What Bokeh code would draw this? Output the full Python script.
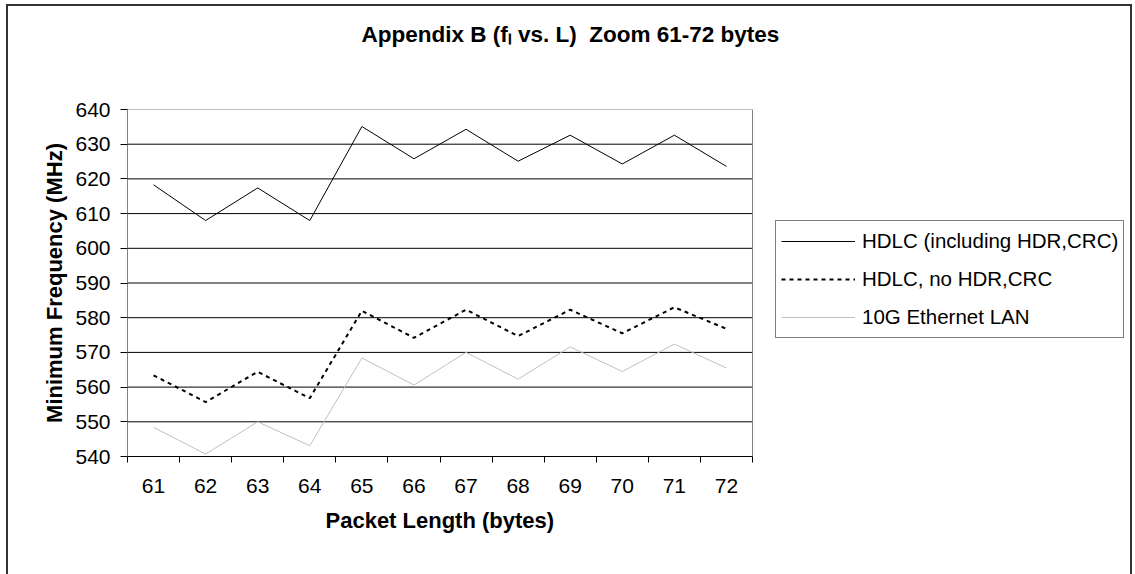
from bokeh.plotting import figure
from bokeh.models import Range1d, FixedTicker, Legend, LegendItem, Title
from bokeh.embed import file_html
from bokeh.resources import INLINE

# ---- data ----
packet_length = [61, 62, 63, 64, 65, 66, 67, 68, 69, 70, 71, 72]
hdlc_incl = [618.3, 608.0, 617.4, 608.0, 635.1, 625.8, 634.3, 625.1, 632.6, 624.3, 632.6, 623.6]
hdlc_no = [563.4, 555.7, 564.4, 556.8, 582.0, 574.2, 582.3, 574.7, 582.3, 575.5, 583.0, 576.8]
eth_lan = [548.4, 540.7, 550.0, 543.1, 568.4, 560.6, 570.0, 562.3, 571.6, 564.5, 572.4, 565.5]
series_names = ["HDLC (including HDR,CRC)", "HDLC, no HDR,CRC", "10G Ethernet LAN"]
y_ticks = [540, 550, 560, 570, 580, 590, 600, 610, 620, 630, 640]
x_bounds = [v - 0.5 for v in packet_length] + [packet_length[-1] + 0.5]
title_text = "Appendix B (f\u2097 vs. L) \u00a0Zoom 61-72 bytes"
x_title = "Packet Length (bytes)"
y_title = "Minimum Frequency (MHz)"

FONT = "Liberation Sans"

# layout (pixels): plot area 127..752 x 109..456, legend to the right inside the frame
W, H = 1135, 574
left, right_area, top, bottom = 127, 752, 109, 456
frame_right = 1127
n = len(packet_length)
px_per_cat = (right_area - left) / n
x_end = x_bounds[0] + (frame_right - left) / px_per_cat

p = figure(width=W, height=H, output_backend="svg", toolbar_location=None,
           x_range=Range1d(x_bounds[0], x_end), y_range=Range1d(y_ticks[0], y_ticks[-1]),
           min_border_left=left, min_border_right=W - frame_right,
           min_border_top=top, min_border_bottom=H - bottom)
p.background_fill_color = "white"
p.border_fill_color = None
p.outline_line_color = None
p.styles = {
    "background": ("linear-gradient(#333,#333) 6px 4px / 2px 100% no-repeat, "
                   "linear-gradient(#333,#333) 6px 4px / 1126px 2px no-repeat, "
                   "linear-gradient(#333,#333) 1130px 4px / 2px 100% no-repeat, white"),
}
p.title.visible = False

# title (above): spacer nearest the plot, then the title text
p.add_layout(Title(text=" ", standoff=36, text_font=FONT, text_font_size="22px"), "above")
p.add_layout(Title(text=title_text, align="left", offset=361 - left, standoff=0,
                   text_font=FONT, text_font_style="bold", text_font_size="22.5px",
                   text_color="black"), "above")

# x axis
xa = p.xaxis[0]
xa.bounds = (x_bounds[0], x_bounds[-1])
xa.ticker = FixedTicker(ticks=packet_length, minor_ticks=x_bounds)
xa.major_tick_out = 0
xa.major_tick_in = 0
xa.minor_tick_out = 6
xa.minor_tick_in = 0
xa.minor_tick_line_color = "black"
xa.axis_line_color = "black"
xa.major_label_text_font = FONT
xa.major_label_text_font_size = "21px"
xa.major_label_text_color = "black"
xa.major_label_standoff = 16

p.add_layout(Title(text=x_title, align="left", offset=325 - left, standoff=20,
                   text_font=FONT, text_font_style="bold", text_font_size="22px",
                   text_color="black"), "below")

# y axis
ya = p.yaxis[0]
ya.ticker = FixedTicker(ticks=y_ticks, minor_ticks=[])
ya.major_tick_out = 7
ya.major_tick_in = 0
ya.major_tick_line_color = "black"
ya.axis_line_color = "#808080"
ya.major_label_text_font = FONT
ya.major_label_text_font_size = "21px"
ya.major_label_text_color = "black"
ya.major_label_standoff = 10
ya.axis_label = y_title
ya.axis_label_text_font = FONT
ya.axis_label_text_font_style = "bold"
ya.axis_label_text_font_size = "22px"
ya.axis_label_text_color = "black"
ya.axis_label_standoff = 5

p.xgrid.visible = False
p.ygrid.visible = False

# gridlines and plot-area border limited to the category span
grid_y = y_ticks[1:-1]
p.segment(x0=[x_bounds[0]] * len(grid_y), x1=[x_bounds[-1]] * len(grid_y),
          y0=grid_y, y1=grid_y, line_color="black", line_width=1)
p.segment(x0=[x_bounds[0]], x1=[x_bounds[-1]], y0=[y_ticks[-1]], y1=[y_ticks[-1]],
          line_color="#808080", line_width=1)
p.segment(x0=[x_bounds[-1]], x1=[x_bounds[-1]], y0=[y_ticks[0]], y1=[y_ticks[-1]],
          line_color="#808080", line_width=1)

r1 = p.line(packet_length, hdlc_incl, line_color="black", line_width=1)
r2 = p.line(packet_length, hdlc_no, line_color="black", line_width=2, line_dash="4 4")
r3 = p.line(packet_length, eth_lan, line_color="#c0c0c0", line_width=1)

legend = Legend(items=[LegendItem(label=series_names[0], renderers=[r1]),
                       LegendItem(label=series_names[1], renderers=[r2]),
                       LegendItem(label=series_names[2], renderers=[r3])],
                location=(775 - left, bottom - 338), orientation="vertical",
                glyph_width=74, glyph_height=30, label_height=30, label_standoff=7,
                spacing=8, padding=5, margin=0,
                label_text_font=FONT, label_text_font_size="20.5px", label_text_color="black",
                border_line_color="black", border_line_width=1,
                background_fill_color="white", background_fill_alpha=1.0)
p.add_layout(legend)

open("out.html", "w").write(file_html(p, INLINE))
